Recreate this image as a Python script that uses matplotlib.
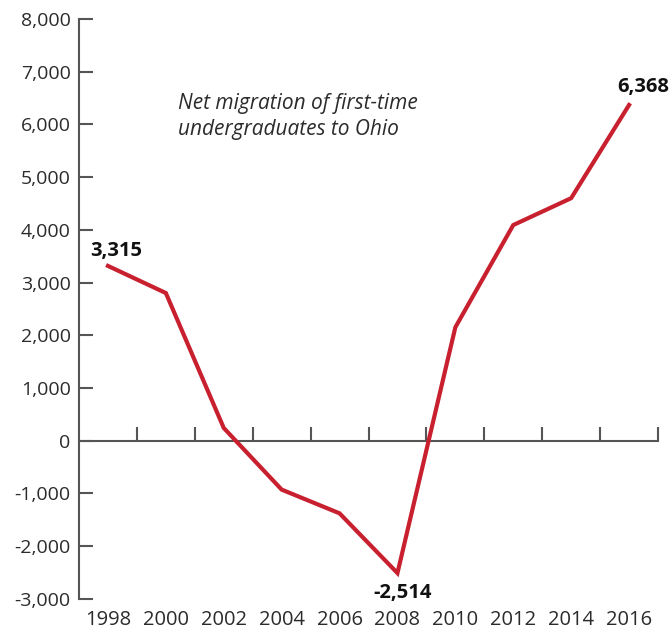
import matplotlib.pyplot as plt
from matplotlib.ticker import FuncFormatter

plt.rcParams['font.family'] = ['Open Sans', 'DejaVu Sans']

years = ["1998", "2000", "2002", "2004", "2006", "2008", "2010", "2012", "2014", "2016"]
net_migration = [3315, 2800, 240, -930, -1380, -2514, 2150, 4090, 4600, 6368]
labelled = {0: "3,315", 5: "-2,514", 9: "6,368"}
# offsets in points from the data point
label_offsets = {0: (6, 11), 5: (4, -14.5), 9: (10.5, 13)}

axis_col = "#555555"
text_col = "#2b2b2b"
line_col = "#c8202f"

fig = plt.figure(figsize=(6.71, 6.31), dpi=100)
ax = fig.add_axes([79 / 671, 1 - 598.7 / 631, (658 - 79) / 671, (598.7 - 19) / 631])

x = list(range(len(years)))
ax.plot(x, net_migration, color=line_col, lw=3, solid_joinstyle="miter", zorder=3)

for i, txt in labelled.items():
    ax.annotate(txt, (x[i], net_migration[i]), xytext=label_offsets[i],
                textcoords="offset points", ha="center", va="center",
                fontsize=14.5, fontweight="bold", color="#111111",
                annotation_clip=False)

ax.text(0.171, 0.872, "Net migration of first-time\nundergraduates to Ohio",
        transform=ax.transAxes, fontsize=15, style="italic", color=text_col,
        ha="left", va="top", linespacing=1.3)

ax.set_xlim(-0.5, len(years) - 0.5)
ax.set_ylim(-3000, 8000)

# y axis
ax.set_yticks(range(-3000, 8001, 1000))
ax.yaxis.set_major_formatter(FuncFormatter(lambda v, p: f"{int(v):,}"))
ax.tick_params(axis="y", direction="in", length=10, width=1.5, color=axis_col,
               labelsize=14, labelcolor=text_col, pad=6)

# x axis: line at zero with boundary ticks, labels at bottom
ax.spines["top"].set_visible(False)
ax.spines["right"].set_visible(False)
ax.spines["left"].set_color(axis_col)
ax.spines["left"].set_linewidth(1.5)
ax.spines["bottom"].set_position(("data", 0))
ax.spines["bottom"].set_color(axis_col)
ax.spines["bottom"].set_linewidth(1.5)
ax.set_xticks([i + 0.5 for i in x])
ax.tick_params(axis="x", direction="in", length=10, width=1.5, color=axis_col,
               labelbottom=False)

sec = ax.secondary_xaxis(0)
sec.set_xticks(x)
sec.set_xticklabels(years)
sec.spines["bottom"].set_visible(False)
sec.tick_params(axis="x", length=0, labelsize=14.5, labelcolor=text_col, pad=8)

fig.savefig("out.png", dpi=100)
